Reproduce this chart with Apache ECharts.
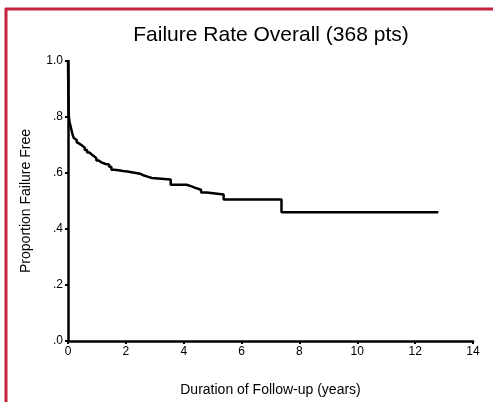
<!DOCTYPE html>
<html>
<head>
<meta charset="utf-8">
<script src="https://cdn.jsdelivr.net/npm/echarts@6/dist/echarts.min.js"></script>
<style>
html,body{margin:0;padding:0;background:#fff;}
#c{width:493px;height:402px;}
</style>
</head>
<body>
<div id="c"></div>
<script>
// Data
var chartTitle = 'Failure Rate Overall (368 pts)';
var xTitle = 'Duration of Follow-up (years)';
var yTitle = 'Proportion Failure Free';
var years = [0, 0.005, 0.01, 0.015, 0.02, 0.03, 0.05, 0.08, 0.11, 0.14, 0.17, 0.2, 0.24, 0.3, 0.36, 0.42, 0.5, 0.58, 0.66, 0.74, 0.82, 0.9, 0.98, 1.06, 1.15, 1.3, 1.42, 1.5, 1.6, 1.75, 1.9, 2.05, 2.2, 2.35, 2.5, 2.6, 2.75, 2.9, 3.55, 4.1, 4.25, 4.4, 4.6, 4.8, 5.38, 7.38, 12.8];
var survival = [1.0, 0.95, 0.9, 0.86, 0.83, 0.80, 0.785, 0.77, 0.758, 0.745, 0.733, 0.725, 0.718, 0.71, 0.703, 0.697, 0.69, 0.682, 0.673, 0.666, 0.66, 0.653, 0.645, 0.638, 0.632, 0.63, 0.622, 0.612, 0.61, 0.607, 0.605, 0.603, 0.6, 0.597, 0.592, 0.587, 0.582, 0.577, 0.558, 0.553, 0.547, 0.54, 0.53, 0.523, 0.505, 0.46, 0.46];
var yTickLabels = {'0': '.0', '0.2': '.2', '0.4': '.4', '0.6': '.6', '0.8': '.8', '1': '1.0'};

var pts = years.map(function (t, i) { return [t, survival[i]]; });
var font = 'Liberation Sans, Arial, sans-serif';
var chart = echarts.init(document.getElementById('c'), null, {renderer: 'canvas'});
chart.setOption({
  backgroundColor: '#ffffff',
  animation: false,
  title: {
    text: chartTitle,
    left: 266, top: 20, textAlign: 'center',
    textStyle: {fontFamily: font, fontSize: 21, fontWeight: 'normal', color: '#000'}
  },
  grid: {left: 68, right: 20, top: 61, bottom: 58, containLabel: false},
  xAxis: {
    type: 'value', min: 0, max: 14, interval: 2,
    name: xTitle, nameLocation: 'middle', nameGap: 42,
    nameTextStyle: {fontFamily: font, fontSize: 14, color: '#000'},
    axisLine: {show: true, lineStyle: {color: '#000', width: 2.5}},
    axisTick: {show: true, length: 3, lineStyle: {color: '#000', width: 2}},
    axisLabel: {fontFamily: font, fontSize: 12, color: '#000', margin: 5},
    splitLine: {show: false}
  },
  yAxis: {
    type: 'value', min: 0, max: 1, interval: 0.2,
    name: yTitle, nameLocation: 'middle', nameGap: 35,
    nameTextStyle: {fontFamily: font, fontSize: 14, color: '#000'},
    axisLine: {show: true, lineStyle: {color: '#000', width: 2.5}},
    axisTick: {show: true, length: 3, lineStyle: {color: '#000', width: 2}},
    axisLabel: {fontFamily: font, fontSize: 12, color: '#000', margin: 5,
      formatter: function (v) { var k = String(Math.round(v * 10) / 10); return yTickLabels[k] || k; }},
    splitLine: {show: false}
  },
  graphic: [
    {type: 'line', shape: {x1: 5, y1: 9, x2: 493, y2: 9}, style: {stroke: '#c3233b', lineWidth: 3}, z: 100},
    {type: 'line', shape: {x1: 6, y1: 8, x2: 6, y2: 402}, style: {stroke: '#c3233b', lineWidth: 3}, z: 100}
  ],
  series: [{
    type: 'line',
    data: pts,
    step: 'end',
    showSymbol: false,
    symbol: 'none',
    lineStyle: {color: '#000', width: 2.5},
    clip: false
  }]
});
</script>
</body>
</html>
